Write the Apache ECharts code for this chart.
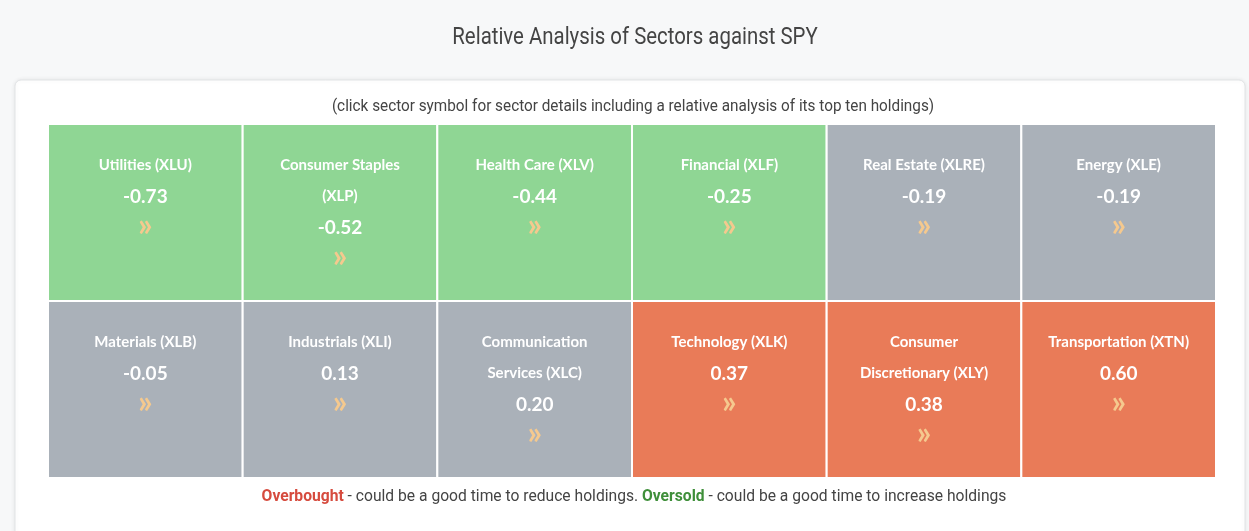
<!DOCTYPE html>
<html>
<head>
<meta charset="utf-8">
<script src="https://cdn.jsdelivr.net/npm/echarts@6/dist/echarts.min.js"></script>
<style>
  html, body { margin: 0; padding: 0; background: #f7f8f9; }
  #chart { width: 1249px; height: 531px; }
</style>
</head>
<body>
<div id="chart"></div>
<script>
// sector tiles, 6 per row, left to right, top to bottom
const sectorNames = [
  'Utilities (XLU)', 'Consumer Staples\n(XLP)', 'Health Care (XLV)',
  'Financial (XLF)', 'Real Estate (XLRE)', 'Energy (XLE)',
  'Materials (XLB)', 'Industrials (XLI)', 'Communication\nServices (XLC)',
  'Technology (XLK)', 'Consumer\nDiscretionary (XLY)', 'Transportation (XTN)'
]
const sectorValues = [-0.73, -0.52, -0.44, -0.25, -0.19, -0.19, -0.05, 0.13, 0.20, 0.37, 0.38, 0.60]
const columns = ['c1', 'c2', 'c3', 'c4', 'c5', 'c6']
const rows = ['r1', 'r2']

const chart = echarts.init(document.getElementById('chart'))

const font = 'Roboto, sans-serif'

const seriesData = sectorValues.map((v, i) => ({
  name: sectorNames[i],
  value: [i % 6, Math.floor(i / 6), v]
}))

// condensed look: Roboto squeezed horizontally
function narrowText(text, x, y, size, sx, rich) {
  return {
    type: 'text',
    x: x,
    y: y,
    scaleX: sx,
    style: {
      text: text,
      align: 'center',
      verticalAlign: 'middle',
      fontFamily: font,
      fontSize: size,
      fill: '#444',
      rich: rich
    }
  }
}

const option = {
  backgroundColor: '#f7f8f9',
  animation: false,
  graphic: [{
    type: 'rect',
    z: -10,
    shape: { x: 15, y: 80, width: 1230, height: 480, r: 6 },
    style: { fill: '#fff', stroke: '#e2e4e6', lineWidth: 1, shadowBlur: 4, shadowColor: 'rgba(0,0,0,0.08)' }
  },
  narrowText('Relative Analysis of Sectors against SPY', 635, 38, 24, 0.85),
  narrowText('(click sector symbol for sector details including a relative analysis of its top ten holdings)', 633, 107, 17, 0.9),
  narrowText('{ob|Overbought} - could be a good time to reduce holdings. {os|Oversold} - could be a good time to increase holdings',
    634, 497, 17, 0.92, {
      ob: { fontFamily: font, fontSize: 17, fontWeight: 'bold', fill: '#d64b3e' },
      os: { fontFamily: font, fontSize: 17, fontWeight: 'bold', fill: '#3f8f3a' }
    })
  ],
  visualMap: {
    show: false,
    type: 'piecewise',
    dimension: 2,
    seriesIndex: 0,
    pieces: [
      { lt: -0.2, color: '#8fd694' },
      { gte: -0.2, lt: 0.3, color: '#aab1b9' },
      { gte: 0.3, color: '#e97b58' }
    ]
  },
  grid: { left: 48, right: 33, top: 124, bottom: 53 },
  xAxis: { type: 'category', data: columns, show: false },
  yAxis: { type: 'category', data: rows, inverse: true, show: false },
  series: [{
    type: 'custom',
    data: seriesData,
    encode: { x: 0, y: 1 },
    renderItem: (params, api) => {
      const c = api.coord([api.value(0), api.value(1)])
      const s = api.size([1, 1])
      const x0 = c[0] - s[0] / 2
      const y0 = c[1] - s[1] / 2
      const name = sectorNames[params.dataIndex]
      const v = api.value(2)
      return {
        type: 'group',
        children: [{
          type: 'rect',
          shape: { x: x0, y: y0, width: s[0], height: s[1] },
          style: { fill: api.visual('color'), stroke: '#fff', lineWidth: 2 }
        }, {
          type: 'text',
          x: c[0],
          y: y0 + 26,
          style: {
            text: '{n|' + name.split('\n').join('}\n{n|') + '}\n{v|' + v.toFixed(2) + '}\n{a|\u00bb}',
            align: 'center',
            verticalAlign: 'top',
            fill: '#fff',
            rich: {
              n: { fontFamily: 'Lato', fontSize: 15, fontWeight: 'bold', fill: '#fff', lineHeight: 31 },
              v: { fontFamily: 'Lato', fontSize: 19, fontWeight: 'bold', fill: '#fff', lineHeight: 31 },
              a: { fontFamily: 'Lato', fontSize: 32, fontWeight: 'bold', fill: '#f5c98e', lineHeight: 28 }
            }
          }
        }]
      }
    }
  }]
}

chart.setOption(option)
</script>
</body>
</html>
